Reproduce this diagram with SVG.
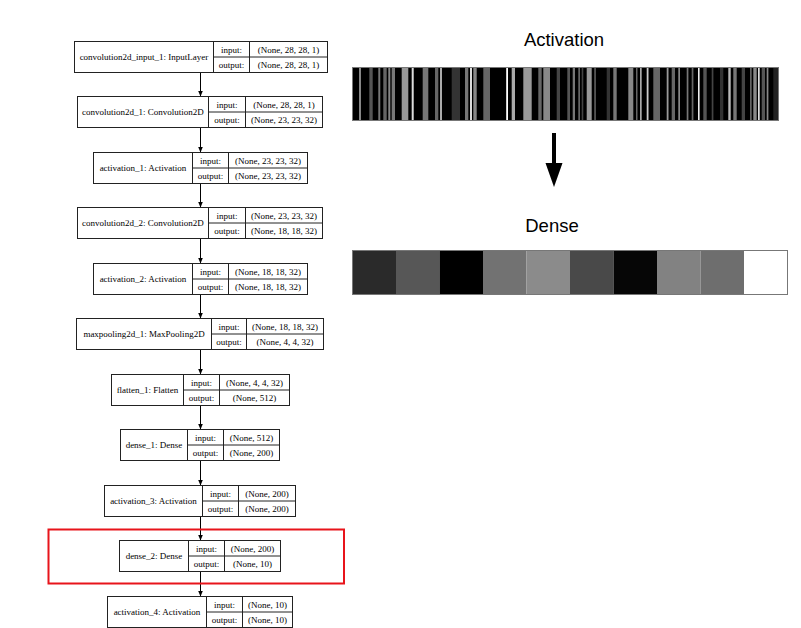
<svg xmlns="http://www.w3.org/2000/svg" width="801" height="628" viewBox="0 0 801 628">
  <defs>
    <style>
      .box { fill: #ffffff; stroke: #222222; stroke-width: 1; }
      .sep { fill: none; stroke: #222222; stroke-width: 1; }
      .t { font-family: "Liberation Serif", "Times New Roman", serif; font-size: 9px; fill: #000000; text-anchor: middle; }
      .edge { fill: none; stroke: #000000; stroke-width: 1; }
      .title { font-family: "Liberation Sans", Arial, sans-serif; font-size: 18.5px; fill: #000000; text-anchor: middle; }
      .frame { fill: none; stroke: #777777; stroke-width: 1; }
    </style>
    <marker id="ah" markerWidth="6" markerHeight="6" refX="6" refY="3" orient="auto" markerUnits="userSpaceOnUse">
      <path d="M0,0.5 L6,3 L0,5.5 z" fill="#000000"/>
    </marker>
  </defs>

  <rect x="0" y="0" width="801" height="628" fill="#ffffff"/>

  <!-- layer graph: connectors -->
  <g id="edges">
    <line class="edge" x1="200.5" y1="72.5" x2="200.5" y2="96.5" marker-end="url(#ah)"/>
    <line class="edge" x1="200.5" y1="127.5" x2="200.5" y2="152.5" marker-end="url(#ah)"/>
    <line class="edge" x1="200.5" y1="183.5" x2="200.5" y2="207.5" marker-end="url(#ah)"/>
    <line class="edge" x1="200.5" y1="238.5" x2="200.5" y2="263.5" marker-end="url(#ah)"/>
    <line class="edge" x1="200.5" y1="294.5" x2="200.5" y2="318.5" marker-end="url(#ah)"/>
    <line class="edge" x1="200.5" y1="349.5" x2="200.5" y2="374.5" marker-end="url(#ah)"/>
    <line class="edge" x1="200.5" y1="405.5" x2="200.5" y2="429.5" marker-end="url(#ah)"/>
    <line class="edge" x1="200.5" y1="460.5" x2="200.5" y2="485.5" marker-end="url(#ah)"/>
    <line class="edge" x1="200.5" y1="516.5" x2="200.5" y2="540.5" marker-end="url(#ah)"/>
    <line class="edge" x1="200.5" y1="571.5" x2="200.5" y2="596.5" marker-end="url(#ah)"/>
  </g>

  <!-- layer graph: nodes -->
  <g id="convolution2d_input_1">
    <rect class="box" x="74.5" y="41.5" width="253" height="31"/>
    <path class="sep" d="M213.5 41.5V72.5M249.5 41.5V72.5M213.5 57H327.5"/>
    <text class="t" x="144" y="60">convolution2d_input_1: InputLayer</text>
    <text class="t" x="231.5" y="52.5">input:</text>
    <text class="t" x="288.5" y="52.5">(None, 28, 28, 1)</text>
    <text class="t" x="231.5" y="68">output:</text>
    <text class="t" x="288.5" y="68">(None, 28, 28, 1)</text>
  </g>

  <g id="convolution2d_1">
    <rect class="box" x="77.5" y="96.5" width="245" height="31"/>
    <path class="sep" d="M208.5 96.5V127.5M245.5 96.5V127.5M208.5 112H322.5"/>
    <text class="t" x="143" y="115">convolution2d_1: Convolution2D</text>
    <text class="t" x="227" y="107.5">input:</text>
    <text class="t" x="284" y="107.5">(None, 28, 28, 1)</text>
    <text class="t" x="227" y="123">output:</text>
    <text class="t" x="284" y="123">(None, 23, 23, 32)</text>
  </g>

  <g id="activation_1">
    <rect class="box" x="93.5" y="152.5" width="214" height="31"/>
    <path class="sep" d="M192.5 152.5V183.5M228.5 152.5V183.5M192.5 168H307.5"/>
    <text class="t" x="143" y="171">activation_1: Activation</text>
    <text class="t" x="210.5" y="163.5">input:</text>
    <text class="t" x="268" y="163.5">(None, 23, 23, 32)</text>
    <text class="t" x="210.5" y="179">output:</text>
    <text class="t" x="268" y="179">(None, 23, 23, 32)</text>
  </g>

  <g id="convolution2d_2">
    <rect class="box" x="77.5" y="207.5" width="245" height="31"/>
    <path class="sep" d="M208.5 207.5V238.5M245.5 207.5V238.5M208.5 223H322.5"/>
    <text class="t" x="143" y="226">convolution2d_2: Convolution2D</text>
    <text class="t" x="227" y="218.5">input:</text>
    <text class="t" x="284" y="218.5">(None, 23, 23, 32)</text>
    <text class="t" x="227" y="234">output:</text>
    <text class="t" x="284" y="234">(None, 18, 18, 32)</text>
  </g>

  <g id="activation_2">
    <rect class="box" x="93.5" y="263.5" width="214" height="31"/>
    <path class="sep" d="M192.5 263.5V294.5M228.5 263.5V294.5M192.5 279H307.5"/>
    <text class="t" x="143" y="282">activation_2: Activation</text>
    <text class="t" x="210.5" y="274.5">input:</text>
    <text class="t" x="268" y="274.5">(None, 18, 18, 32)</text>
    <text class="t" x="210.5" y="290">output:</text>
    <text class="t" x="268" y="290">(None, 18, 18, 32)</text>
  </g>

  <g id="maxpooling2d_1">
    <rect class="box" x="76.5" y="318.5" width="247" height="31"/>
    <path class="sep" d="M211.5 318.5V349.5M246.5 318.5V349.5M211.5 334H323.5"/>
    <text class="t" x="144" y="337">maxpooling2d_1: MaxPooling2D</text>
    <text class="t" x="229" y="329.5">input:</text>
    <text class="t" x="285" y="329.5">(None, 18, 18, 32)</text>
    <text class="t" x="229" y="345">output:</text>
    <text class="t" x="285" y="345">(None, 4, 4, 32)</text>
  </g>

  <g id="flatten_1">
    <rect class="box" x="111.5" y="374.5" width="178" height="31"/>
    <path class="sep" d="M183.5 374.5V405.5M219.5 374.5V405.5M183.5 390H289.5"/>
    <text class="t" x="147.5" y="393">flatten_1: Flatten</text>
    <text class="t" x="201.5" y="385.5">input:</text>
    <text class="t" x="254.5" y="385.5">(None, 4, 4, 32)</text>
    <text class="t" x="201.5" y="401">output:</text>
    <text class="t" x="254.5" y="401">(None, 512)</text>
  </g>

  <g id="dense_1">
    <rect class="box" x="120.5" y="429.5" width="159" height="31"/>
    <path class="sep" d="M187.5 429.5V460.5M223.5 429.5V460.5M187.5 445H279.5"/>
    <text class="t" x="154" y="448">dense_1: Dense</text>
    <text class="t" x="205.5" y="440.5">input:</text>
    <text class="t" x="251.5" y="440.5">(None, 512)</text>
    <text class="t" x="205.5" y="456">output:</text>
    <text class="t" x="251.5" y="456">(None, 200)</text>
  </g>

  <g id="activation_3">
    <rect class="box" x="104.5" y="485.5" width="191" height="31"/>
    <path class="sep" d="M202.5 485.5V516.5M238.5 485.5V516.5M202.5 501H295.5"/>
    <text class="t" x="153.5" y="504">activation_3: Activation</text>
    <text class="t" x="220.5" y="496.5">input:</text>
    <text class="t" x="267" y="496.5">(None, 200)</text>
    <text class="t" x="220.5" y="512">output:</text>
    <text class="t" x="267" y="512">(None, 200)</text>
  </g>

  <g id="dense_2">
    <rect class="box" x="119.5" y="540.5" width="161" height="31"/>
    <path class="sep" d="M188.5 540.5V571.5M224.5 540.5V571.5M188.5 556H280.5"/>
    <text class="t" x="154" y="559">dense_2: Dense</text>
    <text class="t" x="206.5" y="551.5">input:</text>
    <text class="t" x="252.5" y="551.5">(None, 200)</text>
    <text class="t" x="206.5" y="567">output:</text>
    <text class="t" x="252.5" y="567">(None, 10)</text>
  </g>

  <g id="activation_4">
    <rect class="box" x="107.5" y="596.5" width="185" height="31"/>
    <path class="sep" d="M206.5 596.5V627.5M242.5 596.5V627.5M206.5 612H292.5"/>
    <text class="t" x="157" y="615">activation_4: Activation</text>
    <text class="t" x="224.5" y="607.5">input:</text>
    <text class="t" x="267.5" y="607.5">(None, 10)</text>
    <text class="t" x="224.5" y="623">output:</text>
    <text class="t" x="267.5" y="623">(None, 10)</text>
  </g>

  <!-- highlight around dense_2 -->
  <rect id="highlight" x="48.5" y="529.5" width="295.5" height="54" fill="none" stroke="#e8141b" stroke-width="2"/>

  <!-- activation strip -->
  <g id="activation-panel">
    <text class="title" x="564" y="46">Activation</text>
    <rect x="352.5" y="67.5" width="426" height="53" fill="#000000"/>
    <g id="activation-stripes">
      <rect x="359" y="67.5" width="2" height="53" fill="#888"/>
      <rect x="369.3" y="67.5" width="3.4" height="53" fill="#555"/>
      <rect x="378.3" y="67.5" width="2" height="53" fill="#777"/>
      <rect x="383.3" y="67.5" width="3.4" height="53" fill="#666"/>
      <rect x="388.3" y="67.5" width="2" height="53" fill="#888"/>
      <rect x="391.7" y="67.5" width="3.3" height="53" fill="#777"/>
      <rect x="401.7" y="67.5" width="6.6" height="53" fill="#999"/>
      <rect x="411.7" y="67.5" width="2" height="53" fill="#ddd"/>
      <rect x="422.7" y="67.5" width="5.6" height="53" fill="#777"/>
      <rect x="435" y="67.5" width="3.3" height="53" fill="#666"/>
      <rect x="440" y="67.5" width="2" height="53" fill="#aaa"/>
      <rect x="451.7" y="67.5" width="8.3" height="53" fill="#333"/>
      <rect x="465" y="67.5" width="3.3" height="53" fill="#777"/>
      <rect x="470" y="67.5" width="2" height="53" fill="#ddd"/>
      <rect x="473.3" y="67.5" width="3.4" height="53" fill="#888"/>
      <rect x="483.3" y="67.5" width="6.7" height="53" fill="#666"/>
      <rect x="506.2" y="67.5" width="1.8" height="53" fill="#fff"/>
      <rect x="511.7" y="67.5" width="3.3" height="53" fill="#aaa"/>
      <rect x="523.3" y="67.5" width="8.4" height="53" fill="#999"/>
      <rect x="538.3" y="67.5" width="3.4" height="53" fill="#666"/>
      <rect x="543.3" y="67.5" width="6.7" height="53" fill="#888"/>
      <rect x="556.7" y="67.5" width="3.3" height="53" fill="#444"/>
      <rect x="567.3" y="67.5" width="2.7" height="53" fill="#555"/>
      <rect x="572.7" y="67.5" width="2.3" height="53" fill="#777"/>
      <rect x="578.3" y="67.5" width="1.7" height="53" fill="#666"/>
      <rect x="581.7" y="67.5" width="1.6" height="53" fill="#444"/>
      <rect x="586.7" y="67.5" width="5" height="53" fill="#999"/>
      <rect x="594.3" y="67.5" width="1.5" height="53" fill="#666"/>
      <rect x="606.7" y="67.5" width="3.3" height="53" fill="#333"/>
      <rect x="613.3" y="67.5" width="3.4" height="53" fill="#777"/>
      <rect x="628.3" y="67.5" width="5" height="53" fill="#888"/>
      <rect x="636" y="67.5" width="1.5" height="53" fill="#666"/>
      <rect x="640" y="67.5" width="1.7" height="53" fill="#aaa"/>
      <rect x="646.7" y="67.5" width="1.8" height="53" fill="#ccc"/>
      <rect x="653.3" y="67.5" width="6.7" height="53" fill="#666"/>
      <rect x="666.7" y="67.5" width="1.8" height="53" fill="#999"/>
      <rect x="671.7" y="67.5" width="3.3" height="53" fill="#666"/>
      <rect x="678.3" y="67.5" width="1.7" height="53" fill="#888"/>
      <rect x="686.7" y="67.5" width="1.7" height="53" fill="#777"/>
      <rect x="691.7" y="67.5" width="1.7" height="53" fill="#666"/>
      <rect x="698" y="67.5" width="1.6" height="53" fill="#eee"/>
      <rect x="703.3" y="67.5" width="3.4" height="53" fill="#555"/>
      <rect x="711.7" y="67.5" width="1.7" height="53" fill="#444"/>
      <rect x="720" y="67.5" width="3.3" height="53" fill="#333"/>
      <rect x="728.3" y="67.5" width="2.4" height="53" fill="#bbb"/>
      <rect x="733.3" y="67.5" width="3.4" height="53" fill="#777"/>
      <rect x="741.7" y="67.5" width="3.3" height="53" fill="#444"/>
      <rect x="750" y="67.5" width="1.7" height="53" fill="#666"/>
      <rect x="753.3" y="67.5" width="3.4" height="53" fill="#888"/>
      <rect x="758" y="67.5" width="1.7" height="53" fill="#ddd"/>
      <rect x="761.7" y="67.5" width="3.3" height="53" fill="#555"/>
      <rect x="766.7" y="67.5" width="1.7" height="53" fill="#888"/>
      <rect x="773.3" y="67.5" width="5" height="53" fill="#222"/>
    </g>
    <rect class="frame" x="352.5" y="67.5" width="426" height="53"/>
  </g>

  <!-- downward arrow between the strips -->
  <g id="flow-arrow">
    <rect x="552" y="133" width="4" height="31" fill="#000000"/>
    <path d="M545.5 163 L562.5 163 L554 187 z" fill="#000000"/>
  </g>

  <!-- dense strip -->
  <g id="dense-panel">
    <text class="title" x="552" y="232">Dense</text>
    <rect x="352.5" y="250.5" width="43.5" height="44" fill="#2a2a2a"/>
    <rect x="396" y="250.5" width="43.5" height="44" fill="#575757"/>
    <rect x="439.5" y="250.5" width="43.5" height="44" fill="#000000"/>
    <rect x="483" y="250.5" width="43.5" height="44" fill="#727272"/>
    <rect x="526.5" y="250.5" width="43.5" height="44" fill="#8b8b8b"/>
    <rect x="570" y="250.5" width="43.5" height="44" fill="#494949"/>
    <rect x="613.5" y="250.5" width="43.5" height="44" fill="#060606"/>
    <rect x="657" y="250.5" width="43.5" height="44" fill="#828282"/>
    <rect x="700.5" y="250.5" width="43.5" height="44" fill="#6e6e6e"/>
    <rect x="744" y="250.5" width="43.5" height="44" fill="#ffffff"/>
    <rect class="frame" x="352.5" y="250.5" width="435" height="44"/>
  </g>
</svg>
